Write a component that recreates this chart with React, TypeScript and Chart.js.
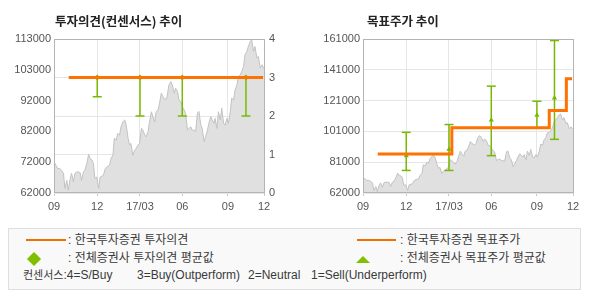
import React, { useEffect, useRef } from "react";
import { Chart, registerables } from "chart.js";

Chart.register(...registerables);

// ---------- data ----------
const xTickDays = [0, 91, 181, 270, 366, 442];
const xTickLabels = ["09", "12", "17/03", "06", "09", "12"];

const priceDays = [
  0, 4, 8, 12, 16, 20, 23, 27, 30, 34, 37, 41, 44, 48, 51, 55, 58, 62, 65, 69,
  73, 76, 80, 83, 86, 90, 94, 97, 101, 104, 108, 111, 117, 120, 124, 127, 131, 134, 138, 141,
  145, 149, 152, 156, 159, 162, 166, 170, 173, 177, 180, 184, 187, 191, 194, 198, 201, 205, 208, 212,
  215, 219, 222, 226, 229, 235, 238, 242, 246, 249, 253, 256, 260, 263, 267, 270, 274, 277, 281, 284,
  288, 291, 295, 298, 302, 305, 309, 312, 316, 319, 323, 326, 330, 333, 337, 339, 343, 346, 350, 353,
  357, 360, 364, 367, 371, 374, 378, 381, 385, 388, 392, 395, 399, 402, 406, 409, 413, 416, 420, 423,
  427, 430, 434, 438, 441, 442,
];
const prices = [
  72300, 71200, 70100, 70100, 69500, 68500, 63500, 66200, 62900, 66800, 68500, 65700, 68500, 69000, 69000, 68700, 66200, 69000, 69500, 71800,
  74800, 73400, 72900, 71800, 66800, 67300, 63500, 67300, 67600, 67900, 70100, 70600, 71200, 73400, 74500, 80100, 79500, 81700, 81200, 83900,
  85600, 86200, 84500, 80100, 77900, 78400, 74500, 76200, 76800, 77900, 78400, 83400, 82800, 81200, 80600, 82300, 85600, 88900, 87300, 85600,
  88900, 89500, 91700, 95100, 93900, 92800, 93900, 97800, 98900, 97800, 95100, 96700, 95600, 92800, 92300, 90600, 89500, 88400, 82800, 83400,
  83900, 82800, 82800, 82300, 88500, 89000, 84500, 83400, 79000, 80600, 82800, 85100, 87300, 86200, 85100, 86700, 83400, 88900, 86200, 90100,
  85100, 84500, 86700, 85100, 88900, 93400, 92800, 96100, 97800, 100600, 101100, 102200, 103900, 107800, 108900, 110500, 112200, 112800, 108900, 110500,
  106700, 107200, 103400, 104500, 103400, 103400,
];

const opinionPriceTickLabels = ["62000", "72000", "82000", "92000", "103000", "113000"];
const opinionTickLabels = ["0", "1", "2", "3", "4"];
const targetPriceTickLabels = ["62000", "81000", "101000", "121000", "141000", "161000"];

// 한국투자증권 투자의견
const kisOpinionDays = [31, 440];
const kisOpinions = [3, 3];
// 전체증권사 투자의견 범위 / 평균
const consDays = [91, 181, 270, 404];
const consHigh = [3, 3, 3, 3];
const consLow = [2.5, 2, 2, 2];
const consAvg = [3, 3, 3, 3];

// 한국투자증권 목표주가
const kisTargetDays = [31, 187, 392, 428, 440];
const kisTargets = [87000, 104000, 115000, 135500, 135500];
// 전체증권사 목표주가 범위 / 평균
const tgtDays = [91, 181, 270, 366, 403];
const tgtHigh = [101000, 106000, 130700, 121000, 160000];
const tgtLow = [76500, 76500, 86000, 104000, 96500];
const tgtAvg = [86000, 90200, 109000, 112000, 123000];

// ---------- styles ----------
const ORANGE = "#ff7100";
const GREEN = "#78b800";
const GRID = "#e6e6e6";
const TICK_FONT = { family: "'Liberation Sans', Arial, sans-serif", size: 11 };
const TICK_COLOR = "#555";

const framePlugin = {
  id: "frame",
  afterDraw(chart: any) {
    const { ctx, chartArea: a } = chart;
    ctx.save();
    ctx.strokeStyle = "#b4b4b4";
    ctx.lineWidth = 1;
    ctx.strokeRect(a.left + 0.5, a.top + 0.5, a.right - a.left, a.bottom - a.top - 1);
    ctx.restore();
  },
};

function xScale() {
  return {
    type: "linear",
    min: xTickDays[0],
    max: xTickDays[xTickDays.length - 1],
    afterBuildTicks: (s: any) => {
      s.ticks = xTickDays.map((v) => ({ value: v }));
    },
    afterFit: (s: any) => {
      s.height = 29;
    },
    ticks: {
      autoSkip: false,
      maxRotation: 0,
      padding: 4,
      color: TICK_COLOR,
      font: TICK_FONT,
      callback: (_v: any, i: number) => xTickLabels[i],
    },
    grid: { color: GRID, tickColor: "#c8c8c8", tickLength: 3 },
    border: { display: false },
  };
}

function evenTicks(labels: string[], min: number, max: number) {
  return (s: any) => {
    s.ticks = labels.map((_, i) => ({ value: min + (i * (max - min)) / (labels.length - 1) }));
  };
}

function priceDataset(yAxisID: string) {
  return {
    type: "line",
    data: priceDays.map((d, i) => ({ x: d, y: prices[i] })),
    yAxisID,
    borderColor: "#c2c2c2",
    borderWidth: 1,
    backgroundColor: "#e0e0e0",
    fill: "start",
    pointRadius: 0,
    tension: 0,
    order: 10,
  };
}

function barDatasets(days: number[], low: number[], high: number[], yAxisID: string) {
  return days.map((d, i) => ({
    type: "line",
    data: [
      { x: d, y: low[i] },
      { x: d, y: high[i] },
    ],
    yAxisID,
    borderColor: GREEN,
    borderWidth: 1.5,
    pointStyle: "line",
    pointRadius: 4.5,
    pointBorderColor: GREEN,
    pointBorderWidth: 1.5,
    order: 5,
  }));
}

function avgDataset(days: number[], avg: number[], yAxisID: string, style: string) {
  return {
    type: "line",
    data: days.map((d, i) => ({ x: d, y: avg[i] })),
    yAxisID,
    showLine: false,
    pointStyle: style,
    pointRadius: 3,
    pointBackgroundColor: GREEN,
    pointBorderColor: GREEN,
    pointBorderWidth: 0,
    order: 4,
  };
}

const baseOptions = {
  responsive: false,
  animation: false,
  events: [],
  plugins: { legend: { display: false }, tooltip: { enabled: false } },
};

export default function App() {
  const leftRef = useRef<HTMLCanvasElement>(null);
  const rightRef = useRef<HTMLCanvasElement>(null);

  useEffect(() => {
    const leftPriceMin = 62000;
    const leftPriceMax = 113000;
    const rightPriceMin = 62000;
    const rightPriceMax = 161000;

    const left = new Chart(leftRef.current as HTMLCanvasElement, {
      type: "line",
      data: {
        datasets: [
          {
            type: "line",
            data: kisOpinionDays.map((d, i) => ({ x: d, y: kisOpinions[i] })),
            yAxisID: "y1",
            borderColor: ORANGE,
            borderWidth: 3,
            pointRadius: 0,
            order: 1,
          },
          avgDataset(consDays, consAvg, "y1", "rectRot"),
          ...barDatasets(consDays, consLow, consHigh, "y1"),
          priceDataset("y"),
        ] as any,
      },
      options: {
        ...baseOptions,
        layout: { padding: { top: 39, left: 0, right: 0, bottom: 0 } },
        scales: {
          x: xScale(),
          y: {
            type: "linear",
            position: "left",
            min: leftPriceMin,
            max: leftPriceMax,
            afterBuildTicks: evenTicks(opinionPriceTickLabels, leftPriceMin, leftPriceMax),
            afterFit: (s: any) => {
              s.width = 54;
            },
            ticks: {
              padding: 3,
              color: TICK_COLOR,
              font: TICK_FONT,
              callback: (_v: any, i: number) => opinionPriceTickLabels[i],
            },
            grid: { drawOnChartArea: false, drawTicks: false },
            border: { display: false },
          },
          y1: {
            type: "linear",
            position: "right",
            min: 0,
            max: 4,
            afterBuildTicks: evenTicks(opinionTickLabels, 0, 4),
            afterFit: (s: any) => {
              s.width = 31;
            },
            ticks: {
              padding: 5,
              color: TICK_COLOR,
              font: TICK_FONT,
              callback: (_v: any, i: number) => opinionTickLabels[i],
            },
            grid: { color: GRID, drawTicks: false },
            border: { display: false },
          },
        },
      } as any,
      plugins: [framePlugin],
    });

    // step path for target price
    const stepPts: { x: number; y: number }[] = [];
    kisTargetDays.forEach((d, i) => {
      if (i > 0) stepPts.push({ x: d, y: kisTargets[i - 1] });
      stepPts.push({ x: d, y: kisTargets[i] });
    });

    const right = new Chart(rightRef.current as HTMLCanvasElement, {
      type: "line",
      data: {
        datasets: [
          {
            type: "line",
            data: stepPts,
            yAxisID: "y",
            borderColor: ORANGE,
            borderWidth: 3,
            borderJoinStyle: "miter",
            pointRadius: 0,
            order: 1,
          },
          avgDataset(tgtDays, tgtAvg, "y", "triangle"),
          ...barDatasets(tgtDays, tgtLow, tgtHigh, "y"),
          priceDataset("y"),
        ] as any,
      },
      options: {
        ...baseOptions,
        layout: { padding: { top: 39, left: 0, right: 17, bottom: 0 } },
        scales: {
          x: xScale(),
          y: {
            type: "linear",
            position: "left",
            min: rightPriceMin,
            max: rightPriceMax,
            afterBuildTicks: evenTicks(targetPriceTickLabels, rightPriceMin, rightPriceMax),
            afterFit: (s: any) => {
              s.width = 68;
            },
            ticks: {
              padding: 3,
              color: TICK_COLOR,
              font: TICK_FONT,
              callback: (_v: any, i: number) => targetPriceTickLabels[i],
            },
            grid: { color: GRID, drawTicks: false },
            border: { display: false },
          },
        },
      } as any,
      plugins: [framePlugin],
    });

    return () => {
      left.destroy();
      right.destroy();
    };
  }, []);

  const font = "'Liberation Sans', Arial, 'Noto Sans CJK KR', sans-serif";
  const txt = (left: number, top: number, s: React.ReactNode, extra: any = {}) => (
    <div
      style={{
        position: "absolute",
        left,
        top,
        fontSize: 12,
        lineHeight: "14px",
        color: "#3a3a3a",
        whiteSpace: "pre",
        ...extra,
      }}
    >
      {s}
    </div>
  );

  return (
    <div
      style={{
        position: "absolute",
        left: 0,
        top: 0,
        width: 590,
        height: 300,
        background: "#fff",
        fontFamily: font,
        overflow: "hidden",
      }}
    >
      <canvas ref={leftRef} width={295} height={222} style={{ position: "absolute", left: 0, top: 0 }} />
      <canvas ref={rightRef} width={295} height={222} style={{ position: "absolute", left: 295, top: 0 }} />

      <div
        style={{
          position: "absolute",
          left: 55,
          top: 13,
          fontSize: 12.5,
          lineHeight: "16px",
          fontWeight: "bold",
          color: "#222",
          fontFamily: "'Noto Sans CJK KR', sans-serif",
          whiteSpace: "pre",
        }}
      >
        투자의견(컨센서스) 추이
      </div>
      <div
        style={{
          position: "absolute",
          left: 367,
          top: 13,
          fontSize: 12.5,
          lineHeight: "16px",
          fontWeight: "bold",
          color: "#222",
          fontFamily: "'Noto Sans CJK KR', sans-serif",
          whiteSpace: "pre",
        }}
      >
        목표주가 추이
      </div>

      {/* legend box */}
      <div
        style={{
          position: "absolute",
          left: 8,
          top: 228,
          width: 573,
          height: 62,
          boxSizing: "border-box",
          border: "1px solid #dedede",
          background: "#f9f9f9",
        }}
      />
      <div style={{ position: "absolute", left: 26, top: 239, width: 40, height: 2, background: "#ee7000" }} />
      {txt(68, 233, ": 한국투자증권 투자의견")}
      <div
        style={{
          position: "absolute",
          left: 29,
          top: 254,
          width: 10,
          height: 10,
          background: "#80c000",
          transform: "rotate(45deg)",
        }}
      />
      {txt(68, 251, ": 전체증권사 투자의견 평균값")}

      <div style={{ position: "absolute", left: 357, top: 239, width: 39, height: 2, background: "#ee7000" }} />
      {txt(400, 233, ": 한국투자증권 목표주가")}
      <div
        style={{
          position: "absolute",
          left: 356,
          top: 256,
          width: 0,
          height: 0,
          borderLeft: "7.5px solid transparent",
          borderRight: "7.5px solid transparent",
          borderBottom: "7px solid #80c000",
        }}
      />
      {txt(400, 251, ": 전체증권사 목표주가 평균값")}

      {txt(23, 268, (
        <>
          <span style={{ fontSize: 11 }}>컨센서스</span>:4=S/Buy
        </>
      ))}
      {txt(137, 268, "3=Buy(Outperform)")}
      {txt(248, 268, "2=Neutral")}
      {txt(311, 268, "1=Sell(Underperform)")}
    </div>
  );
}
